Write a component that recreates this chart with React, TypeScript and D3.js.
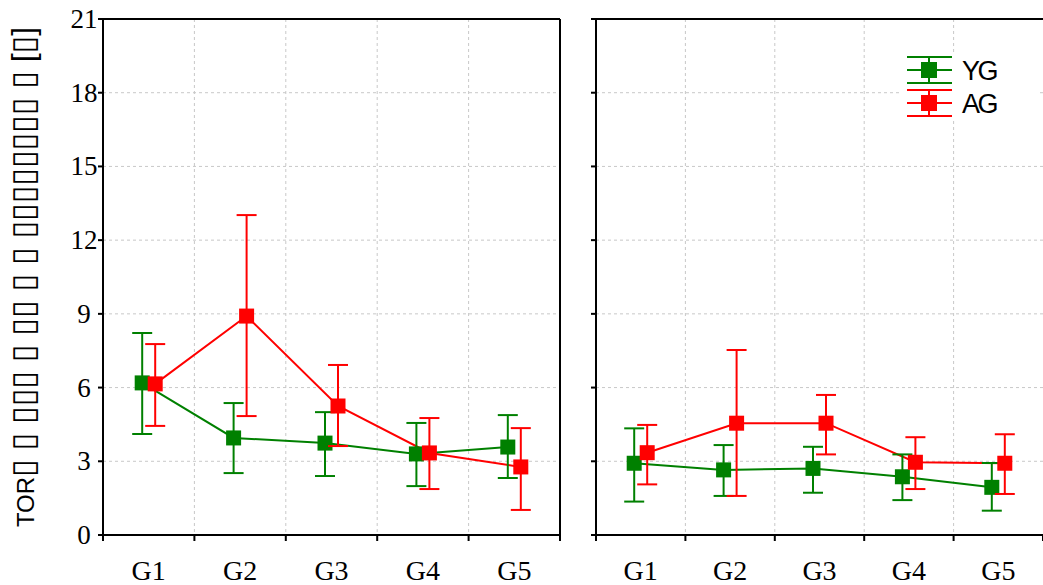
import React from "react";
import * as d3 from "d3";

const categories = ["G1", "G2", "G3", "G4", "G5"];
const yTicks = [0, 3, 6, 9, 12, 15, 18, 21];
const seriesNames = ["YG", "AG"];
const seriesColors = ["#008000", "#ff0000"];

// Left panel
const leftYG = [6.19, 3.95, 3.74, 3.3, 3.58];
const leftYGLow = [4.11, 2.52, 2.4, 1.99, 2.32];
const leftYGHigh = [8.22, 5.37, 5.0, 4.56, 4.88];
const leftAG = [6.15, 8.91, 5.25, 3.34, 2.77];
const leftAGLow = [4.44, 4.84, 3.62, 1.87, 1.02];
const leftAGHigh = [7.77, 13.02, 6.92, 4.76, 4.35];

// Right panel
const rightYG = [2.92, 2.65, 2.71, 2.37, 1.94];
const rightYGLow = [1.36, 1.59, 1.72, 1.42, 0.99];
const rightYGHigh = [4.34, 3.66, 3.59, 3.28, 2.93];
const rightAG = [3.35, 4.55, 4.55, 2.96, 2.92];
const rightAGLow = [2.06, 1.59, 3.28, 1.87, 1.67];
const rightAGHigh = [4.48, 7.53, 5.7, 3.98, 4.1];

const B = "\u25AF";
const yLabelHead = "TOR";
const yLabelTail = `${B} ${B} ${B}${B}${B} ${B} ${B}${B} ${B} ${B} ${B}${B}${B}${B}${B}${B}${B}${B} ${B} [${B}]`;

const W = 1043;
const H = 585;
const TOP = 19;
const BOTTOM = 535;

type Series = { name: string; color: string; v: number[]; lo: number[]; hi: number[] };

const Panel: React.FC<{
  x0: number;
  x1: number;
  series: Series[];
  leftLabels: boolean;
  rightBorder: boolean;
}> = ({ x0, x1, series, leftLabels, rightBorder }) => {
  const x = d3.scaleBand<string>().domain(categories).range([x0, x1]);
  const y = d3.scaleLinear().domain([0, 21]).range([BOTTOM, TOP]);
  const bw = x.bandwidth();
  const offsets = [-6.5, 6.5];
  const boundaries = categories.map((c) => x(c) as number).concat([x1]);
  const line = d3
    .line<[number, number]>()
    .x((d) => d[0])
    .y((d) => d[1]);
  const cap = 10;
  const ms = 15;
  return (
    <g>
      {yTicks.slice(1, -1).map((t) => (
        <line key={"gy" + t} x1={x0} x2={x1} y1={y(t)} y2={y(t)} stroke="#c8c8c8" strokeWidth={1} strokeDasharray="3,3" />
      ))}
      {boundaries.slice(1, -1).map((b, i) => (
        <line key={"gx" + i} x1={b} x2={b} y1={TOP} y2={BOTTOM} stroke="#c8c8c8" strokeWidth={1} strokeDasharray="3,3" />
      ))}
      {series.map((s, si) => (
        <path
          key={"l" + si}
          d={line(s.v.map((v, i) => [(x(categories[i]) as number) + bw / 2 + offsets[si], y(v)])) || ""}
          fill="none"
          stroke={s.color}
          strokeWidth={2}
        />
      ))}
      {series.map((s, si) => (
        <g key={"s" + si}>
          {s.v.map((v, i) => {
            const cx = (x(categories[i]) as number) + bw / 2 + offsets[si];
            return (
              <g key={i} stroke={s.color} strokeWidth={2}>
                <line x1={cx} x2={cx} y1={y(s.lo[i])} y2={y(s.hi[i])} />
                <line x1={cx - cap} x2={cx + cap} y1={y(s.lo[i])} y2={y(s.lo[i])} />
                <line x1={cx - cap} x2={cx + cap} y1={y(s.hi[i])} y2={y(s.hi[i])} />
                <rect x={cx - ms / 2} y={y(v) - ms / 2} width={ms} height={ms} fill={s.color} stroke="none" />
              </g>
            );
          })}
        </g>
      ))}
      <g stroke="#000" strokeWidth={2} fill="none">
        <line x1={x0} x2={x1} y1={TOP} y2={TOP} />
        <line x1={x0} x2={x1} y1={BOTTOM} y2={BOTTOM} />
        <line x1={x0} x2={x0} y1={TOP} y2={BOTTOM} />
        {rightBorder && <line x1={x1} x2={x1} y1={TOP} y2={BOTTOM} />}
        {yTicks.map((t) => (
          <line key={"ty" + t} x1={x0 - 5} x2={x0} y1={y(t)} y2={y(t)} />
        ))}
        {boundaries.map((b, i) => (
          <line key={"tx" + i} x1={b} x2={b} y1={BOTTOM} y2={BOTTOM + 6} />
        ))}
      </g>
      {categories.map((c) => (
        <text
          key={"xl" + c}
          x={(x(c) as number) + bw / 2}
          y={580}
          textAnchor="middle"
          fontFamily="'Liberation Serif', serif"
          fontSize={28}
          fill="#000"
        >
          {c}
        </text>
      ))}
      {leftLabels &&
        yTicks.map((t) => (
          <text
            key={"yl" + t}
            x={84}
            y={y(t) + 9}
            textAnchor="middle"
            fontFamily="'Liberation Serif', serif"
            fontSize={27}
            fill="#000"
          >
            {t}
          </text>
        ))}
    </g>
  );
};

export default function App() {
  const leftSeries: Series[] = [
    { name: seriesNames[0], color: seriesColors[0], v: leftYG, lo: leftYGLow, hi: leftYGHigh },
    { name: seriesNames[1], color: seriesColors[1], v: leftAG, lo: leftAGLow, hi: leftAGHigh },
  ];
  const rightSeries: Series[] = [
    { name: seriesNames[0], color: seriesColors[0], v: rightYG, lo: rightYGLow, hi: rightYGHigh },
    { name: seriesNames[1], color: seriesColors[1], v: rightAG, lo: rightAGLow, hi: rightAGHigh },
  ];
  const legendY = [70, 103];
  return (
    <svg width={W} height={H} style={{ position: "absolute", left: 0, top: 0, background: "#fff" }}>
      <rect x={0} y={0} width={W} height={H} fill="#fff" />
      <Panel x0={103} x1={560} series={leftSeries} leftLabels={true} rightBorder={true} />
      <Panel x0={596} x1={1043} series={rightSeries} leftLabels={false} rightBorder={false} />
      {seriesNames.map((n, i) => {
        const cy = legendY[i];
        const cx = 929;
        return (
          <g key={n}>
            <rect x={900} y={cy - 17} width={140} height={34} fill="#fff" />
            <g stroke={seriesColors[i]} strokeWidth={2}>
              <line x1={907} x2={952} y1={cy - 13} y2={cy - 13} />
              <line x1={907} x2={952} y1={cy} y2={cy} />
              <line x1={907} x2={952} y1={cy + 13} y2={cy + 13} />
              <line x1={cx} x2={cx} y1={cy - 13} y2={cy + 13} />
            </g>
            <rect x={cx - 8} y={cy - 8} width={16} height={16} fill={seriesColors[i]} />
            <text x={962} y={cy + 10} fontFamily="'Liberation Sans', Arial, sans-serif" fontSize={27} letterSpacing={-2.5} fill="#000">
              {n}
            </text>
          </g>
        );
      })}
      <text
        transform={`translate(34, 277) rotate(-90)`}
        textAnchor="middle"
        fontFamily="'Liberation Sans', 'DejaVu Sans', sans-serif"
        fontSize={24}
        fill="#000"
      >
        <tspan>{yLabelHead}</tspan>
        <tspan fontSize={32}>{yLabelTail}</tspan>
      </text>
    </svg>
  );
}
